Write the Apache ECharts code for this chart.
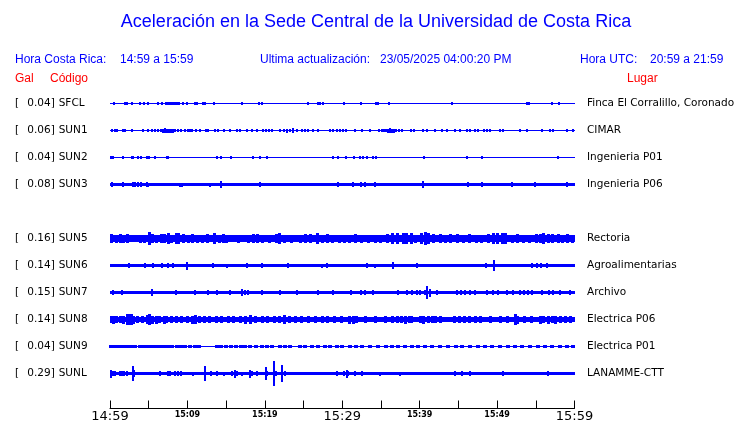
<!DOCTYPE html>
<html><head><meta charset="utf-8">
<script src="https://cdn.jsdelivr.net/npm/echarts@6/dist/echarts.min.js"></script>
<style>html,body{margin:0;padding:0;background:#fff}#c{width:740px;height:423px}</style>
</head><body><div id="c"></div><script>
// ---------- text ----------
const titleText = 'Aceleración en la Sede Central de la Universidad de Costa Rica';
const localLabel = 'Hora Costa Rica:';
const localRange = '14:59 a 15:59';
const updLabel = 'Ultima actualización:';
const updated = '23/05/2025 04:00:20 PM';
const utcLabel = 'Hora UTC:';
const utcRange = '20:59 a 21:59';
const startClock = [14, 59];   // local start time
const spanMinutes = 60;
const tickStep = 5;

// ---------- stations (row order, SUN4 row left empty) ----------
const codes   = ['SFCL','SUN1','SUN2','SUN3','','SUN5','SUN6','SUN7','SUN8','SUN9','SUNL'];
const peakGal = [0.04, 0.06, 0.04, 0.08, null, 0.16, 0.14, 0.15, 0.14, 0.04, 0.29];
const places  = ['Finca El Corralillo, Coronado','CIMAR','Ingenieria P01','Ingenieria P06','',
                 'Rectoria','Agroalimentarias','Archivo','Electrica P06','Electrica P01','LANAMME-CTT'];
// background (noise) half-amplitude, Gal
const baseGal = [0.012, 0.012, 0.012, 0.042, null, 0.078, 0.04, 0.04, 0.06, 0.012, 0.04];

// bursts: [minutes after start, half-amplitude in Gal]
const burstsSFCL = [[0.52,.035],[1.94,.035],[2.2,.035],[2.8,.035],[3.88,.035],[4.39,.035],[4.87,.024],[6.2,.035],[6.72,.035],[7.24,.035],[7.49,.04],[7.75,.04],[8.01,.04],[8.27,.04],[8.4,.035],[8.66,.04],[8.91,.035],[9.43,.024],[9.95,.035],[10.98,.035],[11.24,.035],[12.02,.035],[12.27,.035],[13.44,.024],[17.02,.035],[19.25,.024],[19.64,.024],[25.58,.035],[26.87,.035],[27.13,.035],[27.52,.024],[30.23,.035],[32.39,.035],[34.37,.035],[34.63,.035],[36.05,.024],[44.15,.035],[53.88,.024],[54.13,.024],[57.07,.035],[58.01,.035]];
const burstsSUN1 = [[0.2,.035],[0.65,.035],[0.9,.035],[1.7,.035],[1.95,.035],[2.85,.024],[4.25,.035],[4.9,.024],[5.45,.024],[5.8,.035],[6.2,.035],[6.6,.035],[6.85,.047],[7.05,.06],[7.35,.047],[7.6,.047],[7.9,.047],[8.15,.047],[8.4,.035],[8.8,.035],[9.15,.035],[9.7,.024],[10.1,.024],[10.35,.035],[10.6,.035],[11.1,.024],[11.6,.024],[12.4,.035],[12.65,.035],[13.55,.024],[13.95,.024],[14.75,.024],[15.5,.024],[16.4,.035],[16.8,.035],[17.7,.024],[18.35,.024],[19.0,.035],[19.75,.035],[20.15,.035],[20.55,.035],[20.95,.035],[21.95,.024],[22.5,.035],[22.85,.047],[23.25,.035],[23.65,.06],[24.15,.024],[24.8,.035],[25.2,.035],[25.6,.035],[26.2,.024],[26.85,.024],[28.4,.024],[28.8,.024],[29.35,.035],[29.7,.035],[30.1,.035],[30.5,.035],[31.65,.035],[32.5,.024],[33.6,.024],[34.75,.035],[35.15,.035],[35.4,.035],[35.65,.035],[35.9,.047],[36.2,.06],[36.45,.047],[36.7,.047],[36.95,.035],[37.35,.035],[37.7,.035],[38.9,.035],[39.3,.035],[40.45,.024],[40.95,.024],[42.0,.024],[42.9,.035],[43.55,.035],[44.55,.024],[45.2,.024],[46.1,.035],[46.5,.035],[47.15,.024],[47.55,.024],[48.3,.035],[48.7,.035],[49.1,.035],[50.4,.024],[50.75,.024],[52.95,.024],[53.9,.024],[55.8,.024],[56.85,.035],[57.25,.035],[59.05,.024],[59.8,.024]];
const burstsSUN2 = [[0.15,.035],[0.35,.035],[1.7,.024],[2.8,.035],[3.0,.024],[3.65,.024],[3.95,.035],[4.75,.024],[5.05,.024],[5.8,.024],[7.3,.024],[7.55,.024],[11.4,.02],[13.85,.024],[14.3,.035],[15.65,.024],[18.5,.035],[19.4,.024],[20.3,.024],[28.85,.024],[29.45,.035],[30.5,.035],[31.55,.024],[32.3,.035],[32.7,.024],[33.15,.035],[34.0,.024],[34.3,.024],[40.55,.04],[41.25,.02],[45.2,.02],[46.1,.04],[48.0,.024],[53.6,.02],[57.85,.024]];
const burstsSUN3 = [[0.2,.059],[1.7,.059],[2.95,.07],[3.25,.059],[3.65,.059],[4.0,.059],[4.75,.059],[4.95,.047],[9.05,.047],[9.25,.047],[12.9,.047],[14.3,.08],[19.4,.059],[29.4,.07],[31.4,.059],[32.4,.07],[32.95,.059],[34.25,.059],[40.45,.08],[46.3,.059],[48.0,.059],[51.9,.059],[54.9,.07],[59.0,.059]];
const burstsSUN5 = [[0.25,.106],[0.8,.094],[1.3,.106],[1.8,.094],[2.3,.106],[3.9,.094],[4.4,.094],[5.05,.148],[5.55,.106],[6.05,.094],[6.6,.106],[7.1,.106],[7.5,.118],[8.0,.094],[8.55,.118],[8.9,.14],[9.45,.106],[10.1,.094],[10.7,.106],[11.35,.094],[12.0,.094],[12.65,.106],[13.55,.118],[14.1,.094],[14.6,.106],[15.0,.094],[16.55,.094],[17.85,.094],[18.5,.106],[19.0,.106],[19.65,.094],[20.65,.094],[21.45,.106],[21.95,.118],[22.6,.094],[23.5,.094],[24.55,.094],[25.2,.106],[25.85,.106],[26.75,.118],[27.4,.094],[28.05,.106],[28.8,.094],[29.7,.094],[30.35,.094],[31.0,.094],[31.65,.106],[32.55,.094],[33.35,.094],[34.25,.094],[34.9,.094],[35.9,.106],[36.55,.118],[37.2,.14],[37.85,.13],[38.35,.118],[38.9,.118],[39.4,.094],[40.2,.14],[40.7,.16],[41.1,.14],[41.75,.106],[42.65,.106],[43.3,.094],[43.95,.106],[44.95,.106],[45.6,.094],[46.5,.106],[47.3,.094],[48.05,.094],[48.85,.106],[49.5,.118],[50.0,.118],[50.65,.118],[51.15,.118],[51.95,.094],[52.7,.106],[53.35,.094],[54.25,.094],[55.05,.106],[55.55,.106],[55.95,.14],[56.6,.106],[57.2,.106],[57.9,.106],[58.5,.094],[59.15,.106],[59.7,.094]];
const burstsSUN6 = [[2.5,.059],[4.5,.059],[5.5,.059],[6.75,.07],[7.55,.059],[8.2,.059],[10.0,.094],[13.35,.059],[15.1,.047],[17.65,.059],[19.6,.059],[23.05,.059],[27.35,.047],[28.0,.059],[33.25,.059],[34.25,.047],[36.5,.082],[39.7,.07],[48.55,.059],[49.65,.14],[54.5,.059],[55.1,.07],[55.7,.059],[56.4,.07]];
const burstsSUN7 = [[0.45,.059],[1.5,.059],[5.4,.082],[8.5,.07],[11.0,.059],[12.7,.059],[13.8,.059],[15.5,.059],[17.05,.082],[17.45,.07],[17.85,.07],[19.65,.059],[21.95,.059],[24.15,.059],[26.85,.059],[28.8,.059],[31.1,.059],[32.4,.059],[32.95,.059],[34.0,.059],[37.25,.059],[38.35,.059],[39.0,.059],[39.6,.059],[40.05,.059],[40.7,.07],[41.0,.15],[41.35,.094],[42.2,.07],[44.85,.059],[45.35,.059],[45.85,.059],[46.5,.059],[47.15,.059],[48.65,.059],[49.5,.059],[50.15,.059],[51.3,.059],[52.05,.059],[52.95,.059],[53.5,.059],[54.0,.059],[54.5,.059],[55.75,.059],[56.65,.059],[57.25,.059],[58.15,.059],[59.45,.059]];
const burstsSUN8 = [[0.15,.082],[0.5,.094],[0.9,.082],[1.3,.082],[1.8,.094],[2.2,.118],[2.45,.14],[2.8,.14],[3.1,.094],[3.6,.082],[4.15,.082],[4.9,.106],[5.15,.118],[5.55,.094],[6.05,.094],[6.45,.082],[7.0,.094],[7.35,.082],[8.0,.082],[8.55,.082],[9.3,.082],[9.95,.082],[10.6,.094],[11.1,.106],[11.6,.082],[12.25,.082],[12.9,.082],[13.7,.082],[14.45,.082],[15.25,.082],[16.0,.082],[16.8,.082],[17.55,.094],[18.1,.106],[18.75,.082],[19.65,.082],[20.4,.082],[21.2,.082],[21.95,.082],[22.6,.106],[23.25,.082],[24.0,.082],[24.8,.082],[25.6,.082],[26.5,.082],[27.4,.082],[28.15,.082],[29.05,.082],[29.95,.082],[31.0,.094],[31.5,.094],[31.9,.082],[32.95,.082],[34.25,.082],[35.55,.082],[36.55,.082],[37.1,.082],[37.6,.082],[38.15,.094],[38.65,.082],[39.0,.082],[40.05,.082],[40.55,.094],[41.1,.082],[41.6,.082],[42.1,.082],[42.65,.082],[44.55,.082],[45.2,.082],[45.85,.082],[46.5,.082],[47.15,.082],[47.8,.082],[49.1,.082],[50.4,.082],[51.4,.082],[52.35,.118],[52.7,.094],[53.6,.082],[54.5,.082],[55.55,.094],[56.05,.082],[56.6,.094],[57.1,.082],[57.6,.094],[58.15,.082],[58.8,.082],[59.45,.082]];
const burstsSUN9 = [[0.15,.035],[0.5,.03],[0.9,.035],[1.3,.03],[1.8,.035],[2.3,.035],[2.7,.03],[3.25,.035],[3.9,.035],[4.4,.03],[4.9,.035],[5.45,.035],[5.95,.03],[6.45,.035],[7.0,.035],[7.5,.03],[8.0,.035],[8.65,.035],[9.15,.03],[9.7,.035],[10.35,.035],[11.0,.03],[11.5,.035],[13.8,.035],[14.35,.03],[15.0,.035],[15.65,.035],[16.3,.03],[16.9,.035],[17.45,.04],[18.1,.035],[18.85,.03],[19.65,.035],[20.3,.035],[20.95,.03],[21.95,.035],[22.6,.035],[23.25,.03],[24.55,.035],[25.2,.035],[26.1,.03],[26.85,.035],[27.8,.035],[28.4,.03],[29.35,.035],[29.95,.035],[31.0,.035],[31.8,.03],[32.55,.035],[33.6,.035],[34.6,.03],[35.65,.035],[36.45,.035],[37.2,.03],[38.1,.035],[39.0,.035],[39.8,.03],[40.7,.035],[41.6,.035],[42.65,.03],[43.65,.035],[44.7,.035],[45.5,.03],[46.5,.035],[47.55,.035],[48.45,.03],[49.35,.035],[50.4,.035],[51.4,.03],[52.35,.035],[53.25,.035],[54.25,.03],[55.3,.035],[56.2,.035],[57.1,.03],[58.15,.035],[59.05,.035],[59.8,.03]];
const burstsSUNL = [[0.1,.094],[0.45,.059],[0.65,.059],[1.3,.059],[1.55,.07],[1.8,.059],[2.15,.059],[3.0,.165],[3.15,.082],[6.45,.07],[7.45,.059],[7.75,.059],[8.4,.059],[8.8,.059],[9.15,.059],[10.75,.047],[12.3,.165],[13.05,.059],[13.8,.059],[14.75,.047],[15.75,.059],[16.15,.094],[16.4,.07],[17.0,.047],[18.1,.094],[18.35,.059],[18.95,.059],[20.15,.155],[20.3,.07],[21.2,.29],[21.4,.07],[22.2,.19],[22.6,.059],[29.3,.059],[30.25,.059],[30.6,.094],[30.8,.07],[31.65,.059],[32.55,.059],[34.9,.047],[37.45,.047],[44.55,.07],[45.5,.07],[46.5,.059],[50.75,.059],[56.6,.07]];

const bursts = [burstsSFCL, burstsSUN1, burstsSUN2, burstsSUN3, [], burstsSUN5, burstsSUN6, burstsSUN7, burstsSUN8, burstsSUN9, burstsSUNL];

// ---------- styling / layout (not data) ----------
const traceColor = '#0000ff';
const burstWidth = [2,2,2,2,2,3,2,2,3,4,2];
const GAL_PER_PX = 0.0235;
const ROW_PX = 27;
const S = ROW_PX * GAL_PER_PX;      // row spacing in Gal
const nRows = codes.length;

function clock(v) {
  const m = startClock[0] * 60 + startClock[1] + Math.round(v);
  return Math.floor(m / 60) % 24 + ':' + String(m % 60).padStart(2, '0');
}

const burstData = [];
bursts.forEach((arr, row) => arr.forEach(d => burstData.push([d[0], d[1], row])));
const baseData = [];
baseGal.forEach((b, row) => { if (b != null) baseData.push([0, b, row]); });

function rectFor(api, t0, t1, a, row, w) {
  const c = -row * S;
  const p0 = api.coord([t0, c + a]);
  const p1 = api.coord([t1, c - a]);
  let y0 = Math.round(p0[1]), y1 = Math.round(p1[1]);
  if (y1 <= y0) y1 = y0 + 1;
  let x0, width;
  if (w) { x0 = Math.round(p0[0] - w / 2); width = w; }
  else { x0 = Math.round(p0[0]); width = Math.round(p1[0]) - x0; }
  return { type: 'rect', shape: { x: x0, y: y0, width: width, height: y1 - y0 }, style: { fill: traceColor } };
}

const chart = echarts.init(document.getElementById('c'), null, { renderer: 'canvas' });
const hdrFont = '12px "Liberation Sans", Arial, sans-serif';
const lblFont = '"DejaVu Sans", sans-serif';
const lblSize = 10.5;

chart.setOption({
  backgroundColor: '#ffffff',
  animation: false,
  grid: { left: 110, right: 165.5, top: 90, height: nRows * ROW_PX, containLabel: false, outerBoundsMode: 'none' },
  xAxis: {
    type: 'value', min: 0, max: spanMinutes, interval: tickStep, offset: 21.5, position: 'bottom',
    splitLine: { show: false },
    axisLine: { show: true, onZero: false, lineStyle: { color: '#000', width: 1 } },
    axisTick: { show: true, inside: true, length: 8, lineStyle: { color: '#000', width: 1 } },
    axisLabel: {
      showMinLabel: true, showMaxLabel: true, hideOverlap: false,
      margin: 6.5, verticalAlign: 'middle',
      formatter: v => (Math.round(v) % 10 !== 0) ? '' :
        (Math.round(v) % 30 === 0 ? '{big|' + clock(v) + '}' : '{small|' + clock(v) + '}'),
      rich: {
        big: { fontFamily: lblFont, fontSize: 13, color: '#000', padding: [4, 0, 0, 0] },
        small: { fontFamily: lblFont, fontSize: 8, fontWeight: 'bold', color: '#000' }
      }
    }
  },
  yAxis: [
    { type: 'value', min: -(nRows - 0.5) * S, max: 0.5 * S, show: false },
    {
      type: 'category', data: codes, inverse: true, position: 'left',
      axisLine: { show: false }, axisTick: { show: false }, splitLine: { show: false },
      axisLabel: {
        align: 'left', margin: 95, interval: 0,
        formatter: (val, i) => val ? '{a|[}{b|' + peakGal[i].toFixed(2) + ']}{c|' + val + '}' : '',
        rich: {
          a: { fontFamily: lblFont, fontSize: lblSize, color: '#000', width: 12.3 },
          b: { fontFamily: lblFont, fontSize: lblSize, color: '#000', width: 31.4 },
          c: { fontFamily: lblFont, fontSize: lblSize, color: '#000' }
        }
      }
    },
    {
      type: 'category', data: places, inverse: true, position: 'right',
      axisLine: { show: false }, axisTick: { show: false }, splitLine: { show: false },
      axisLabel: { margin: 12.5, interval: 0, fontFamily: lblFont, fontSize: lblSize, color: '#000' }
    }
  ],
  series: [
    {
      type: 'custom', xAxisIndex: 0, yAxisIndex: 0, data: baseData, encode: { x: 0, y: 1 }, silent: true,
      renderItem: (p, api) => rectFor(api, 0, spanMinutes, api.value(1), api.value(2), 0)
    },
    {
      type: 'custom', xAxisIndex: 0, yAxisIndex: 0, data: burstData, encode: { x: 0, y: 1 }, silent: true,
      renderItem: (p, api) => rectFor(api, api.value(0), api.value(0), api.value(1), api.value(2), burstWidth[api.value(2)])
    }
  ],
  graphic: [
    { type: 'text', x: 376, y: 22, style: { text: titleText, font: '18px "Liberation Sans", Arial, sans-serif', fill: '#0000ff', align: 'center', verticalAlign: 'middle' } },
    { type: 'text', x: 15, y: 60, style: { text: localLabel, font: hdrFont, fill: '#0000ff', verticalAlign: 'middle' } },
    { type: 'text', x: 120, y: 60, style: { text: localRange, font: hdrFont, fill: '#0000ff', verticalAlign: 'middle' } },
    { type: 'text', x: 260, y: 60, style: { text: updLabel, font: hdrFont, fill: '#0000ff', verticalAlign: 'middle' } },
    { type: 'text', x: 380, y: 60, style: { text: updated, font: hdrFont, fill: '#0000ff', verticalAlign: 'middle' } },
    { type: 'text', x: 580, y: 60, style: { text: utcLabel, font: hdrFont, fill: '#0000ff', verticalAlign: 'middle' } },
    { type: 'text', x: 650, y: 60, style: { text: utcRange, font: hdrFont, fill: '#0000ff', verticalAlign: 'middle' } },
    { type: 'text', x: 15, y: 79, style: { text: 'Gal', font: hdrFont, fill: '#ff0000', verticalAlign: 'middle' } },
    { type: 'text', x: 50, y: 79, style: { text: 'Código', font: hdrFont, fill: '#ff0000', verticalAlign: 'middle' } },
    { type: 'text', x: 627, y: 79, style: { text: 'Lugar', font: hdrFont, fill: '#ff0000', verticalAlign: 'middle' } }
  ]
});
</script></body></html>
